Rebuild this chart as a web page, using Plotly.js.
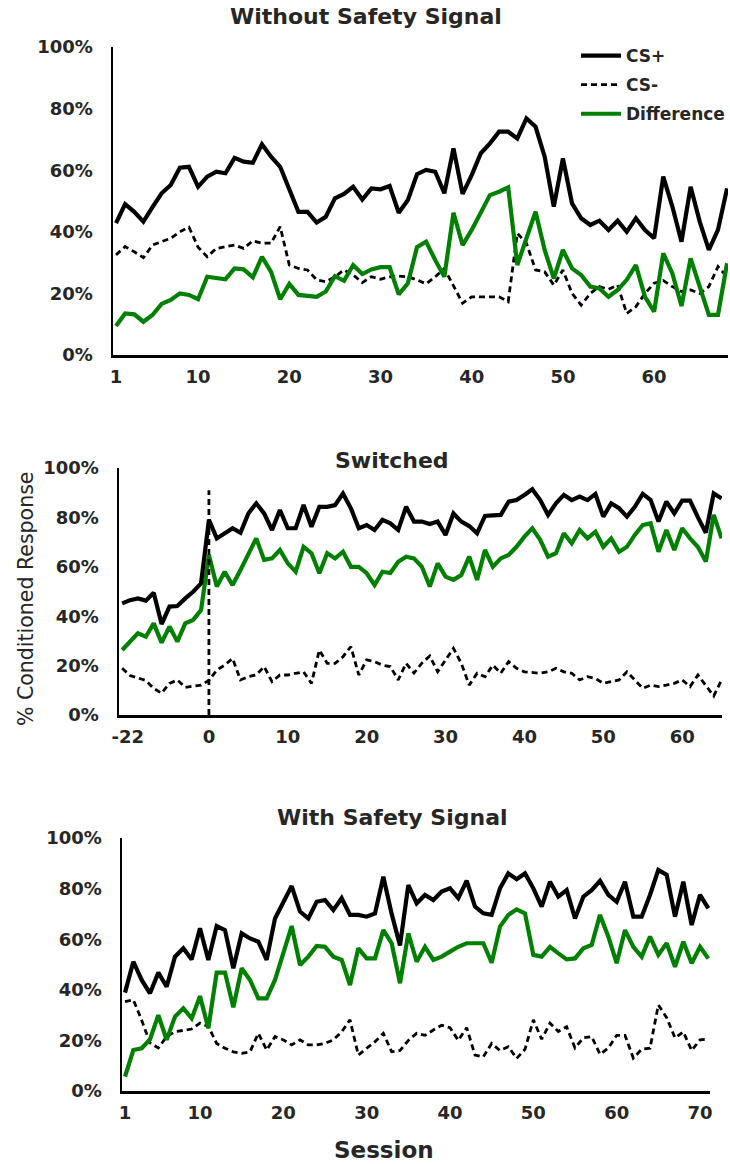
<!DOCTYPE html>
<html>
<head>
<meta charset="utf-8">
<script src="https://cdn.plot.ly/plotly-3.0.1.min.js"></script>
<style>
html,body{margin:0;padding:0;background:#fff;}
#chart{width:730px;height:1164px;}
</style>
</head>
<body>
<div id="chart"></div>
<script>
// ---------- Panel 1: Without Safety Signal (sessions 1..68) ----------
const sessionsA = Array.from({length: 68}, (_, i) => i + 1);
const csPlusA = [42.8,49,46.5,43.3,48,52.5,55.2,60.8,61.1,54.6,
  57.9,59.5,59,64,62.8,62.4,68.4,64.4,61.1,53.6,
  46.5,46.5,43,44.9,50.9,52.3,54.6,50.5,54.1,53.8,
  54.9,46.2,50.3,58.7,60.1,59.5,52.5,67.1,52.3,58.4,
  65.5,68.7,72.5,72.5,70.3,76.8,74.1,64.4,48.2,63.8,
  49.2,44.4,42.2,43.6,40.6,43.6,40,44.4,40.6,37.9,
  57.9,48.2,36.8,54.6,43.3,34.1,40.6,54.1];
const csMinusA = [32.5,35.2,33.5,31.6,35.7,36.8,37.9,40,41.5,35,
  31.9,34.6,35.2,35.7,34.6,37.1,36.3,36.3,41.7,29.2,
  28.1,27.6,24.4,23.8,25.4,27.6,26,23.5,25.4,24.6,
  25.4,25.6,25.4,24.4,23.1,25.4,28.1,22.7,16.8,18.9,
  18.9,18.7,18.9,17.3,39.5,36.3,27.6,27,22.7,27.6,
  20,16.2,20,22.2,21.3,22.7,13.5,15.7,20,23.3,
  24.2,22.2,20.6,21.1,20,22.2,28.7,25.4];
const diffA = [9.4,13.5,13.2,10.8,13,16.6,17.9,20,19.5,18.1,
  25.4,24.9,24.6,28.1,27.8,25.2,31.9,27,18.1,23.1,
  19.5,19.2,18.9,20.6,25.6,24.1,29.2,26.3,27.8,28.5,
  28.5,19.7,23.3,35,36.8,30.8,25.4,46.2,35.7,40.6,
  46.5,51.9,53,54.4,29.2,37.9,46.5,34.1,24.9,34.1,
  28.1,26,22.2,21.6,18.9,21.1,24.4,29.2,18.9,14.1,
  33,26.5,15.9,31.4,22.7,13,13,29.8];
const tickValsA = [1,10,20,30,40,50,60];

// ---------- Panel 2: Switched (pre: -11..-1, post: 0..65) ----------
const sessionsB = Array.from({length: 77}, (_, i) => i - 11);
const csPlusB = [45.2,46.5,47.2,46.3,49.5,36.8,43.9,44.1,47.2,49.9,53.3,
  79,71.5,73.8,75.6,73.8,81.6,85.7,81.6,74.9,83,
  75.6,75.6,85,76.2,84.3,84.3,85,89.7,83.7,75.6,
  76.9,74.9,79,77.6,74.9,84.3,78.3,78.3,77.3,78.3,
  72.9,81.6,78.3,76.5,73.6,80.6,80.8,81,86.4,87,
  89.1,91.4,87,81,85.7,89.1,87,88.4,87,89.5,
  80.3,85.7,83.7,80.3,84.3,89.5,87,78.3,86.4,81.6,
  86.8,86.8,80,73.8,89.7,87.7];
const csMinusB = [18.9,16,15,14,10.8,8.8,12.8,14.2,11.2,11.5,12.1,
  14,18.2,20.2,22.9,14.2,15.5,16.2,19.6,13.5,16.2,
  16.2,16.9,17.5,12.8,26.3,20.9,20.9,23.6,27.7,16.2,
  22.3,21.6,20.2,19.6,14.2,20.9,17,21,23.9,17.5,
  22.3,27,20.9,12.1,16.9,15.5,20.2,16.9,21.6,18.9,
  17.5,17.2,16.9,17.5,18.9,17.5,16.9,14.2,15.5,14.8,
  12.8,13.5,14.2,17.5,14.2,10.8,12.1,11.5,12.1,12.8,
  14.2,11.5,16.2,12.1,7.7,14.2];
const diffB = [26.3,30,33.1,31.7,37.1,29.3,35.8,29.7,37.1,38.5,42.5,
  64.8,52,58,52.6,58.7,64.8,71.5,62.8,63.4,66.8,
  61.4,58,68.1,65.5,57.4,65.5,63.4,66.1,60,60,
  57.4,52.6,58,57.5,62,64.1,63.4,60,52,61.4,
  56,54.7,56.7,64.1,54.7,66.8,60,63.4,64.8,68.1,
  72.2,75.6,70.9,64.1,65.5,73.6,69.5,74.9,71.5,74.2,
  68.1,71.5,66.1,68.1,72.9,76.9,77.6,66.1,74.9,66.8,
  75.6,71.5,68,62.1,81,71.5];
const tickValsB = [-10.3,0,10,20,30,40,50,60];
const tickTextB = ["-22","0","10","20","30","40","50","60"];
const switchSession = 0;
const switchLineTop = 91;

// ---------- Panel 3: With Safety Signal (sessions 1..71) ----------
const sessionsC = Array.from({length: 71}, (_, i) => i + 1);
const csPlusC = [38.9,51.1,43.9,38.6,46.8,41.2,53.1,56.4,52,64.3,
  51.8,65.2,63.6,48.5,62.3,60.3,59,51.8,68.2,74.8,
  81,70.9,68.2,74.8,75.5,71.5,76.2,69.6,69.6,68.9,
  70.2,84.7,70,57.5,81.4,74.2,77.5,75.5,78.8,80.1,
  76.2,83.1,72.9,70.2,69.6,80.1,86,83.7,86,80.1,
  72.9,82.7,76.8,79.4,68.2,76.8,79.4,83.1,77.5,74.8,
  82.7,68.9,68.9,77.5,87.4,85.4,68.9,82.7,65.6,77.5,72.2];
const csMinusC = [35.3,36,28,19,17,21.5,23.4,24.1,24.5,26.8,
  25.5,18.8,16.9,15.5,14.9,15.5,22.8,16.2,21.5,20.2,
  18.2,20.2,18.2,18.2,18.8,20.2,23.4,28.1,14.2,16.9,
  19.5,22.8,15.5,16,20,22.8,22,24.1,26,25,
  20,25,14.2,13.5,18.8,16,17.5,12.9,16.5,28.1,
  20.5,26.8,23.5,25.4,17,21,21.5,14.5,17,22,
  22,13,16.5,16.9,34,29,21,23.4,16,20.2,20.5];
const diffC = [5.7,16.2,16.9,20.4,30,20.2,29.4,32.7,28.7,37.5,
  24.8,46.8,46.8,33.1,48.5,43.9,36.6,36.6,43.9,54.4,
  65.2,49.8,53.1,57.3,57,53.1,51.8,41.9,56.4,52.4,
  52.4,63.6,58.4,42.6,62.3,51.1,57,51.8,53.1,55.1,
  57,58.4,58.4,58.4,50.7,65,69.6,71.8,70.2,53.8,
  53.1,57,54.4,52,52.4,56.4,57.7,69.6,61,50.5,
  63.6,57,53.1,61,53.8,58.4,49.1,59,50.5,57,52.4];
const tickValsC = [1,10,20,30,40,50,60,70];

const yTickVals = [0,20,40,60,80,100];
const yTickText = ["0%","20%","40%","60%","80%","100%"];

const BLACK = '#000000';
const GREEN = '#008000';
const TXT = '#262626';

function series(x, plus, minus, diff, xa, ya, legend) {
  return [
    {x: x, y: minus, xaxis: xa, yaxis: ya, type: 'scatter', mode: 'lines', name: 'CS-',
     line: {color: BLACK, width: 2.8, dash: '6px,4px'}, showlegend: legend, legendrank: 2, legendgroup: 'b'},
    {x: x, y: diff, xaxis: xa, yaxis: ya, type: 'scatter', mode: 'lines', name: 'Difference',
     line: {color: GREEN, width: 4.2}, showlegend: legend, legendrank: 3, legendgroup: 'c'},
    {x: x, y: plus, xaxis: xa, yaxis: ya, type: 'scatter', mode: 'lines', name: 'CS+',
     line: {color: BLACK, width: 4.2}, showlegend: legend, legendrank: 1, legendgroup: 'a'}
  ];
}

const data = [].concat(
  series(sessionsA, csPlusA, csMinusA, diffA, 'x', 'y', true),
  series(sessionsB, csPlusB, csMinusB, diffB, 'x2', 'y2', false),
  series(sessionsC, csPlusC, csMinusC, diffC, 'x3', 'y3', false)
);

const tickFont = {family: 'DejaVu Sans', size: 18, color: TXT, weight: 'bold'};
function xAxis(domain, range, tv, tt, anchor) {
  const a = {domain: domain, range: range, anchor: anchor, showgrid: false, zeroline: false,
    showline: true, linecolor: BLACK, linewidth: 2.5, ticks: '', tickmode: 'array',
    tickvals: tv, tickfont: tickFont, ticklabelstandoff: 4, fixedrange: true};
  a.ticktext = tt || tv.map(String);
  return a;
}
function yAxis(domain, anchor) {
  return {domain: domain, range: [0, 100], anchor: anchor, showgrid: false, zeroline: false,
    showline: true, linecolor: BLACK, linewidth: 2.5, ticks: '', tickmode: 'array',
    tickvals: yTickVals, ticktext: yTickText, tickfont: tickFont, ticklabelstandoff: 14, fixedrange: true};
}
const H = 1164, W = 730;
const px = v => v / W;
const py = v => 1 - v / H;

const titleFont = {family: 'DejaVu Sans', size: 22, color: TXT, weight: 'bold'};

const layout = {
  width: W, height: H,
  margin: {l: 0, r: 0, t: 0, b: 0},
  paper_bgcolor: '#ffffff', plot_bgcolor: '#ffffff',
  showlegend: true,
  legend: {x: px(576), y: py(38), xanchor: 'left', yanchor: 'top', bgcolor: 'rgba(0,0,0,0)',
    font: {family: 'DejaVu Sans', size: 17, color: TXT, weight: 'bold'},
    traceorder: 'grouped', tracegroupgap: 4, itemwidth: 40},
  xaxis: xAxis([px(113), px(728)], [0.67, 68.1], tickValsA, null, 'y'),
  yaxis: yAxis([py(355), py(47)], 'x'),
  xaxis2: xAxis([px(119), px(722)], [-11.4, 65.05], tickValsB, tickTextB, 'y2'),
  yaxis2: yAxis([py(715), py(468)], 'x2'),
  xaxis3: xAxis([px(122), px(710)], [0.64, 71.2], tickValsC, null, 'y3'),
  yaxis3: yAxis([py(1091), py(838)], 'x3'),
  shapes: [
    {type: 'line', xref: 'x2', yref: 'y2', x0: switchSession, x1: switchSession, y0: 0, y1: switchLineTop,
     line: {color: BLACK, width: 2.8, dash: '6px,4px'}, layer: 'above'}
  ],
  annotations: [
    {text: 'Without Safety Signal', xref: 'paper', yref: 'paper', x: px(366), y: py(17), showarrow: false,
     xanchor: 'center', yanchor: 'middle', font: titleFont},
    {text: 'Switched', xref: 'paper', yref: 'paper', x: px(392), y: py(461), showarrow: false,
     xanchor: 'center', yanchor: 'middle', font: titleFont},
    {text: 'With Safety Signal', xref: 'paper', yref: 'paper', x: px(392), y: py(818), showarrow: false,
     xanchor: 'center', yanchor: 'middle', font: titleFont},
    {text: '% Conditioned Response', xref: 'paper', yref: 'paper', x: px(26), y: py(599), showarrow: false,
     textangle: -90, xanchor: 'center', yanchor: 'middle',
     font: {family: 'DejaVu Sans', size: 20.5, color: TXT}},
    {text: 'Session', xref: 'paper', yref: 'paper', x: px(384), y: py(1150), showarrow: false,
     xanchor: 'center', yanchor: 'middle', font: {family: 'DejaVu Sans', size: 23, color: TXT, weight: 'bold'}}
  ]
};

Plotly.newPlot('chart', data, layout, {staticPlot: true, displayModeBar: false});
</script>
</body>
</html>
